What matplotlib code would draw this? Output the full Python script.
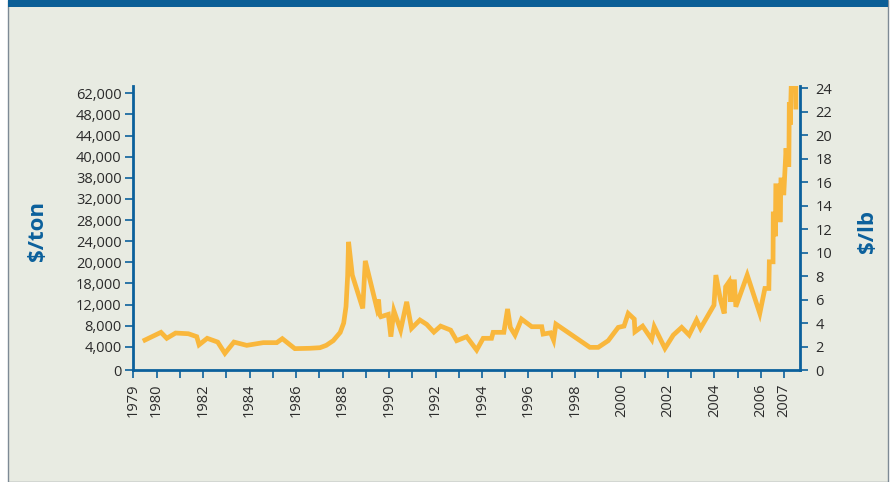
import numpy as np
import matplotlib
matplotlib.use("Agg")
import matplotlib.pyplot as plt
from matplotlib.patches import Rectangle

# price, $/lb (right axis scale)
years = [1979.50, 1980.19, 1980.44, 1980.82, 1981.37, 1981.73, 1981.83, 1982.18,
         1982.63, 1982.94, 1983.33, 1983.88, 1984.59, 1985.17, 1985.41, 1985.95,
         1986.60, 1987.03, 1987.30, 1987.60, 1987.90, 1988.05, 1988.15, 1988.22,
         1988.26, 1988.42, 1988.87, 1988.98, 1989.47, 1989.55, 1989.60, 1989.65,
         1989.97, 1990.08, 1990.21, 1990.50, 1990.76, 1990.97, 1991.33, 1991.62,
         1991.93, 1992.22, 1992.65, 1992.91, 1993.34, 1993.77, 1994.05, 1994.41,
         1994.48, 1994.94, 1995.10, 1995.22, 1995.42, 1995.70, 1996.14, 1996.57,
         1996.63, 1996.95, 1997.08, 1997.18, 1998.64, 1999.00, 1999.43, 1999.86,
         2000.11, 2000.29, 2000.55, 2000.58, 2000.91, 2001.30, 2001.41, 2001.87,
         2002.23, 2002.59, 2002.91, 2003.23, 2003.40, 2003.98, 2004.06, 2004.26,
         2004.42, 2004.48, 2004.63, 2004.70, 2004.78, 2004.86, 2004.92, 2005.41,
         2005.95, 2006.17, 2006.34, 2006.36, 2006.52, 2006.53, 2006.60, 2006.62,
         2006.64, 2006.80, 2006.82, 2006.86, 2006.96, 2006.98, 2007.08, 2007.12,
         2007.20, 2007.22, 2007.26, 2007.30, 2007.50, 2007.50]
price = [2.55, 3.21, 2.70, 3.15, 3.09, 2.84, 2.15, 2.70,
         2.38, 1.42, 2.38, 2.10, 2.33, 2.33, 2.67, 1.82,
         1.85, 1.90, 2.10, 2.50, 3.20, 4.00, 5.40, 8.00,
         10.92, 8.09, 5.25, 9.30, 5.33, 6.01, 4.70, 4.54,
         4.74, 2.84, 5.05, 3.40, 5.81, 3.55, 4.26, 3.89,
         3.23, 3.74, 3.40, 2.50, 2.84, 1.70, 2.70, 2.70,
         3.21, 3.21, 5.20, 3.63, 2.98, 4.34, 3.69, 3.69,
         3.06, 3.17, 2.55, 3.91, 1.93, 1.93, 2.50, 3.63,
         3.74, 4.82, 4.34, 3.26, 3.74, 2.61, 3.69, 1.84,
         2.98, 3.63, 2.98, 4.26, 3.55, 5.53, 8.09, 5.96,
         4.82, 7.09, 7.52, 5.81, 7.52, 7.52, 5.39, 8.09,
         4.82, 6.95, 6.95, 9.22, 9.22, 13.30, 13.30, 11.40,
         15.70, 15.70, 12.60, 16.20, 16.20, 14.90, 18.90, 17.50,
         17.50, 22.80, 20.90, 24.00, 24.00, 22.40]

year_ticks = list(range(1979, 2008))
year_labels = [str(y) if (y % 2 == 0 or y in (1979, 2007)) else "" for y in year_ticks]

# left axis labels sit at these $/lb heights in the original
ton_labels = ["0", "4,000", "8,000", "12,000", "18,000", "20,000", "24,000",
              "28,000", "32,000", "38,000", "40,000", "44,000", "48,000", "62,000"]
ton_pos = [0, 1.98, 3.75, 5.54, 7.38, 9.17, 10.96, 12.78, 14.59, 16.38,
           18.17, 19.96, 21.81, 23.57]
lb_ticks = list(range(0, 25, 2))

bg = "#e8ebe2"
blue = "#0b609c"
line_c = "#f9b73c"
txt = "#2b2b2b"
font = "Open Sans"

fig = plt.figure(figsize=(8.92, 4.82), dpi=100)
fig.patch.set_facecolor("white")
W, H = 892.0, 482.0
fig.patches.append(Rectangle((8 / W, 0), 880 / W, 1, transform=fig.transFigure,
                             facecolor=bg, edgecolor="#7d8a95", lw=1.0, zorder=-2))
fig.patches.append(Rectangle((8 / W, 1 - 7 / H), 880 / W, 7 / H, transform=fig.transFigure,
                             facecolor="#0b5e96", edgecolor="none", zorder=-1))

ax = fig.add_axes([133.3 / W, 112 / H, (800 - 133.3) / W, 284 / H])
ax.set_facecolor("none")
ax.plot(years, price, color=line_c, lw=3.4, solid_joinstyle="miter", zorder=3,
        clip_on=False)
ax.set_xlim(1979, 2007.68)
ax.set_ylim(0, 24.2)

for s in ["top", "right"]:
    ax.spines[s].set_visible(False)
for s in ["left", "bottom"]:
    ax.spines[s].set_color(blue)
    ax.spines[s].set_linewidth(2.0)

ax.set_xticks(year_ticks)
ax.set_xticklabels(year_labels, rotation=90, fontsize=10.5, color=txt, family=font)
ax.set_yticks(ton_pos)
ax.set_yticklabels(ton_labels, fontsize=10.5, color=txt, family=font)
ax.tick_params(axis="x", direction="out", length=6, width=1.2, color=blue, pad=4)
ax.tick_params(axis="y", direction="out", length=5.5, width=1.2, color=blue, pad=3)

ax2 = ax.twinx()
ax2.set_ylim(0, 24.2)
for s in ["top", "left", "bottom"]:
    ax2.spines[s].set_visible(False)
ax2.spines["right"].set_color(blue)
ax2.spines["right"].set_linewidth(2.0)
ax2.set_yticks(lb_ticks)
ax2.set_yticklabels([str(v) for v in lb_ticks], fontsize=10.5, color=txt, family=font)
ax2.tick_params(axis="y", direction="out", length=6, width=1.2, color=blue, pad=5)

fig.text(37 / W, 1 - 231 / H, "$/ton", rotation=90, ha="center", va="center",
         fontsize=16, fontweight="bold", color="#0b609c", family=font)
fig.text(867 / W, 1 - 231 / H, "$/lb", rotation=90, ha="center", va="center",
         fontsize=16, fontweight="bold", color="#0b609c", family=font)

fig.savefig("out.png", dpi=100, facecolor=fig.get_facecolor())
